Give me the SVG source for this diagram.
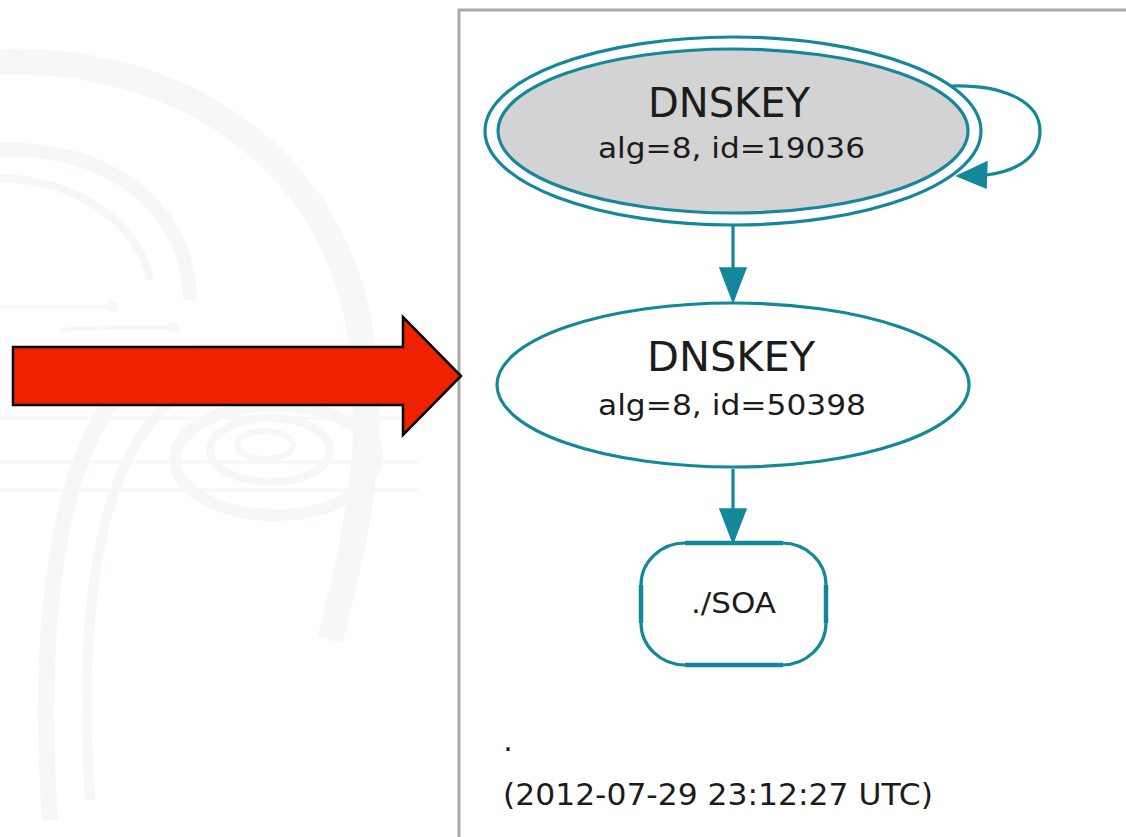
<svg xmlns="http://www.w3.org/2000/svg" width="1126" height="837" viewBox="0 0 1126 837">
  <style>
    .edge { fill: none; stroke: #14889a; stroke-width: 3.2; }
    .head { fill: #14889a; stroke: #14889a; stroke-width: 1.5; stroke-linejoin: miter; }
    .shape { stroke: #14889a; stroke-width: 3.2; }
    .label { font-family: "DejaVu Sans", "Liberation Sans", sans-serif; fill: #1c1c1c; text-anchor: middle; }
    .big { font-size: 40px; }
    .small { font-size: 28px; }
    .wm { fill: none; stroke: #f3f5f5; }
  </style>

  <!-- page background -->
  <rect x="0" y="0" width="1126" height="837" fill="#ffffff"/>

  <!-- very faint background watermark on the left -->
  <g id="watermark" opacity="0.7">
    <path class="wm" stroke-width="26" d="M 0,62 C 170,55 330,150 360,330 C 380,450 350,560 330,640"/>
    <path class="wm" stroke-width="14" d="M 0,150 C 110,145 190,210 190,300"/>
    <path class="wm" stroke-width="8" d="M 0,178 C 80,180 140,225 150,280"/>
    <path class="wm" stroke-width="4" d="M 0,307 L 110,307"/>
    <circle cx="113" cy="307" r="6" fill="#f3f5f5"/>
    <path class="wm" stroke-width="4" d="M 60,330 C 100,327 140,327 170,327"/>
    <circle cx="173" cy="327" r="6" fill="#f3f5f5"/>
    <path class="wm" stroke-width="16" d="M 50,820 C 35,600 60,360 200,352 L 418,352"/>
    <path class="wm" stroke-width="10" d="M 90,800 C 75,560 110,370 260,372 C 360,375 380,430 378,470"/>
    <ellipse class="wm" stroke-width="12" cx="275" cy="460" rx="100" ry="55"/>
    <ellipse class="wm" stroke-width="8" cx="270" cy="450" rx="60" ry="32"/>
    <ellipse class="wm" stroke-width="6" cx="265" cy="445" rx="28" ry="14"/>
    <path class="wm" stroke-width="3" d="M 0,418 L 418,418 M 0,462 L 418,462 M 0,490 L 418,490"/>
  </g>

  <!-- graph panel frame -->
  <path d="M 459,837 L 459,10 L 1126,10" fill="none" stroke="#a9a9a9" stroke-width="3"/>

  <!-- big red pointer -->
  <polygon id="pointer" points="13,347 403,347 403,317 461,376 403,435 403,405 13,405" fill="#ee2200" stroke="#000000" stroke-width="2.5" stroke-linejoin="miter"/>

  <!-- connectors -->
  <g id="edges">
    <g id="edge-loop">
      <path class="edge" d="M 950,86 C 1000,84 1040,100 1040,131 C 1040,160 1012,172 986,175"/>
      <polygon class="head" points="987,162 957,176 986,188"/>
    </g>
    <g id="edge-ksk-zsk">
      <path class="edge" d="M 733,226 L 733,268"/>
      <polygon class="head" points="720,268 746,268 733,302"/>
    </g>
    <g id="edge-zsk-soa">
      <path class="edge" d="M 733,469 L 733,509"/>
      <polygon class="head" points="720,509 746,509 733,543"/>
    </g>
  </g>

  <!-- KSK: DNSKEY 19036 -->
  <g id="dnskey-19036">
    <ellipse class="shape" cx="733" cy="131" rx="248" ry="94" fill="#ffffff"/>
    <ellipse class="shape" cx="733" cy="131" rx="235" ry="82" fill="#d3d3d3"/>
    <text class="label big" x="729" y="117" textLength="162" lengthAdjust="spacingAndGlyphs">DNSKEY</text>
    <text class="label small" x="731.5" y="158" textLength="267" lengthAdjust="spacingAndGlyphs">alg=8, id=19036</text>
  </g>

  <!-- ZSK: DNSKEY 50398 -->
  <g id="dnskey-50398">
    <ellipse class="shape" cx="733" cy="385" rx="236" ry="82" fill="#ffffff"/>
    <text class="label big" x="731" y="371" textLength="168" lengthAdjust="spacingAndGlyphs">DNSKEY</text>
    <text class="label small" x="732" y="415" textLength="268" lengthAdjust="spacingAndGlyphs">alg=8, id=50398</text>
  </g>

  <!-- SOA record set -->
  <g id="soa">
    <rect class="shape" x="641" y="543" width="185" height="122" rx="44" ry="42" fill="#ffffff"/>
    <path d="M 685,543 L 783,543 M 685,665 L 783,665 M 641,585 L 641,623 M 826,585 L 826,623" stroke="#14889a" stroke-width="4.5" fill="none"/>
    <text class="label" x="733.5" y="613" font-size="29" textLength="85" lengthAdjust="spacingAndGlyphs">./SOA</text>
  </g>

  <!-- zone name and timestamp -->
  <g id="caption">
    <text class="label" x="508" y="751" font-size="30">.</text>
    <text class="label" x="718" y="805" font-size="30" textLength="430" lengthAdjust="spacingAndGlyphs">(2012-07-29 23:12:27 UTC)</text>
  </g>
</svg>
